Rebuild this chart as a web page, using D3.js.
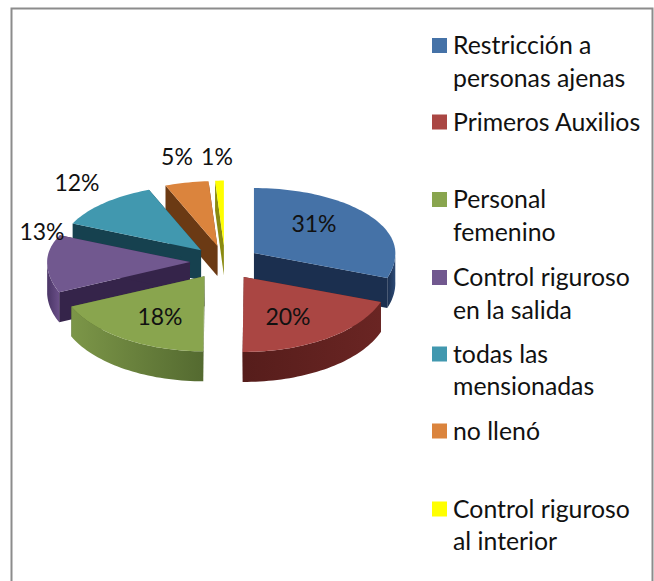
<!DOCTYPE html>
<html><head><meta charset="utf-8">
<script src="https://cdn.jsdelivr.net/npm/d3@7"></script>
<style>html,body{margin:0;padding:0;background:#fff}svg{display:block}text{font-family:Lato,sans-serif;fill:#111}</style>
</head><body><svg id="c" width="654" height="581"></svg>
<script>
const categories=["Restricción a personas ajenas","Primeros Auxilios","Personal femenino","Control riguroso en la salida","todas las mensionadas","no llenó","Control riguroso al interior"];
const values=[31,20,18,13,12,5,1];
const legendLines=[["Restricción a","personas ajenas"],["Primeros Auxilios"],["Personal","femenino"],["Control riguroso","en la salida"],["todas las","mensionadas"],["no llenó"],["Control riguroso","al interior"]];
const legendY=[45.5,122,199.5,277.5,354,431,509];
const topColors=["#4572a7","#aa4643","#89a54e","#71588f","#4198af","#db843d","#ffff00"];
const wallColors=["#1b2f4f","#4f1d1b","#4d5f2a","#35244a","#16414f","#6b3a14","#8a8a10"];
const outerFrom=["#2c4a75","#6a2523","#7c9648","#6a4f88","#2f7183","#a0622c","#c8c820"];
const outerTo=["#1b2f4f","#561d1b","#546a30","#4a3566","#16414f","#6b3a14","#8a8a10"];
const labelPos=[[314,226.5],[288,319.5],[160,319.5],[42,234.5],[77,185.5],[177,159.5],[217,159.5]];

const svg=d3.select("#c");
svg.append("path").attr("d","M11.5,581V8.5H652.5V581").attr("fill","none").attr("stroke","#8c8c8c").attr("stroke-width",2);

const cx=225,cy=262.6,explodeX=35,explodeY=17,rxBase=143,ryBack=65,ryFront=75,depth=30,perspective=0.02,warpMax=0.055;
const arcs=d3.pie().sort(null).value(d=>d).startAngle(0).endAngle(2*Math.PI)(values);
const warp=a=>a-warpMax*Math.pow(Math.sin(a/2),2);
const line=d3.line().x(p=>p[0]).y(p=>p[1]);
const defs=svg.append("defs");
const sample=(a0,a1)=>{const n=Math.max(2,Math.ceil((a1-a0)/0.03));return d3.range(n+1).map(i=>a0+(a1-a0)*i/n);};
const down=p=>[p[0],p[1]+depth];
const order=[6,5,4,3,0,2,1];
order.forEach(i=>{
  const d=arcs[i],mid=(d.startAngle+d.endAngle)/2;
  const o=[cx+explodeX*Math.sin(mid),cy-explodeY*Math.cos(mid)];
  const rx=rxBase*(1-perspective*Math.cos(mid));
  const proj=a0=>{const a=warp(a0),c=Math.cos(a);return [o[0]+rx*Math.sin(a),o[1]-(c>0?ryBack:ryFront)*c];};
  const g=svg.append("g");
  [d.startAngle,d.endAngle].forEach(a=>{
    const p=proj(a);
    g.append("path").attr("d",line([o,p,down(p),down(o)])+"Z").attr("fill",wallColors[i]);
  });
  const f0=Math.max(d.startAngle,Math.PI/2),f1=Math.min(d.endAngle,3*Math.PI/2);
  if(f1>f0){
    const top=sample(f0,f1).map(proj);
    const id="g"+i;
    const gr=defs.append("linearGradient").attr("id",id).attr("gradientUnits","userSpaceOnUse")
      .attr("x1",top[0][0]).attr("x2",top[top.length-1][0]).attr("y1",0).attr("y2",0);
    gr.append("stop").attr("offset",0).attr("stop-color",i===2?outerTo[i]:outerFrom[i]);
    gr.append("stop").attr("offset",1).attr("stop-color",i===2?outerFrom[i]:outerTo[i]);
    g.append("path").attr("d",line(top.concat(top.map(down).reverse()))+"Z").attr("fill",`url(#${id})`);
  }
  g.append("path").attr("d",line([o].concat(sample(d.startAngle,d.endAngle).map(proj)))+"Z").attr("fill",topColors[i]);
});
values.forEach((v,i)=>{
  svg.append("text").attr("x",labelPos[i][0]).attr("y",labelPos[i][1]).attr("text-anchor","middle").attr("dominant-baseline","middle").attr("font-size",23).text(v+"%");
});
categories.forEach((c,i)=>{
  const k=svg.append("g");
  k.append("rect").attr("x",432).attr("y",legendY[i]-7.5).attr("width",15).attr("height",15).attr("fill",topColors[i]);
  legendLines[i].forEach((t,j)=>k.append("text").attr("x",453).attr("y",legendY[i]+2.5+j*32.5).attr("dominant-baseline","middle").attr("font-size",24.8).text(t));
});
</script></body></html>
